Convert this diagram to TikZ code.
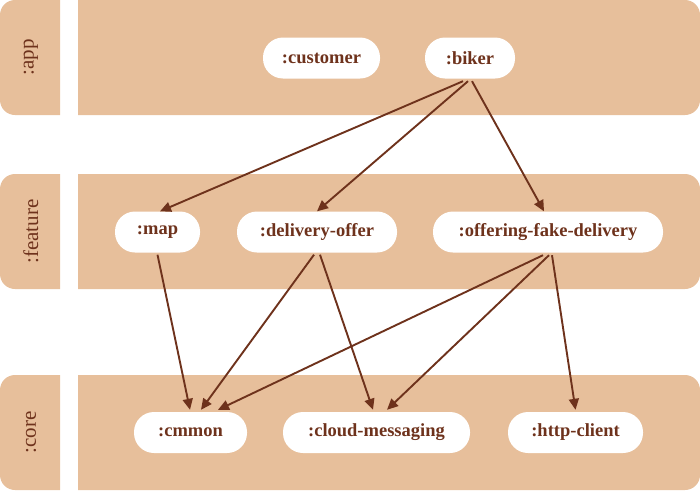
\documentclass[tikz,border=0pt]{standalone}
\usepackage{fontspec}
\setmainfont{Liberation Serif}
\usetikzlibrary{arrows.meta}
\definecolor{tan}{HTML}{E7BF9B}
\definecolor{brn}{HTML}{6E321C}
\tikzset{
  pill/.style={fill=white, rounded corners=20pt, minimum height=41pt, inner sep=0pt,
    text=brn, font=\fontsize{18.5pt}{22pt}\selectfont\bfseries},
  lane/.style={text=brn, rotate=90, font=\fontsize{21pt}{24pt}\selectfont},
  dep/.style={draw=brn, line width=1.9pt, -{Triangle[length=11pt,width=10pt]}}
}
\begin{document}
\begin{tikzpicture}[x=1pt,y=-1pt]
\useasboundingbox (0,0) rectangle (700,490);
% left label boxes
\begin{scope}
  \clip (0,0) rectangle (60,490);
  \fill[tan, rounded corners=15pt] (0,0) rectangle (100,115);
  \fill[tan, rounded corners=15pt] (0,174) rectangle (100,289);
  \fill[tan, rounded corners=15pt] (0,375) rectangle (100,490);
\end{scope}
% main lanes
\begin{scope}
  \clip (78,0) rectangle (700,490);
  \fill[tan, rounded corners=15pt] (40,0) rectangle (700,115);
  \fill[tan, rounded corners=15pt] (40,174) rectangle (700,289);
  \fill[tan, rounded corners=15pt] (40,375) rectangle (700,490);
\end{scope}
\node[lane] (lapp) at (31,57.5) {:app};
\node[lane] (lfeature) at (31,231.5) {:feature};
\node[lane] (lcore) at (31,432.5) {:core};
% nodes
\node[pill, minimum width=117pt] (customer) at (321.5,58) {:customer};
\node[pill, minimum width=90pt] (biker) at (470,58) {:biker};
\node[pill, minimum width=85pt] (map) at (157.5,232) {:map};
\node[pill, minimum width=160pt] (delivery) at (317,232) {:delivery-offer};
\node[pill, minimum width=230pt] (offering) at (548,232) {:offering-fake-delivery};
\node[pill, minimum width=113pt] (cmmon) at (190.5,432.5) {:cmmon};
\node[pill, minimum width=187pt] (cloud) at (376.5,432.5) {:cloud-messaging};
\node[pill, minimum width=135pt] (http) at (575.5,432.5) {:http-client};
% connectors
\draw[dep] ([xshift=-7pt,yshift=-2.5pt]biker.south) -- ([xshift=2.5pt]map.north);
\draw[dep] ([xshift=-2pt,yshift=-2.5pt]biker.south) -- (delivery.north);
\draw[dep] ([xshift=2pt,yshift=-2.5pt]biker.south) -- ([xshift=-4pt]offering.north);
\draw[dep] ([yshift=-2pt]map.south) -- ([xshift=-0.5pt,yshift=2pt]cmmon.north);
\draw[dep] ([xshift=-3pt,yshift=-2pt]delivery.south) -- ([xshift=10.5pt,yshift=2pt]cmmon.north);
\draw[dep] ([xshift=3pt,yshift=-2pt]delivery.south) -- ([xshift=-3.5pt,yshift=2pt]cloud.north);
\draw[dep] ([xshift=-5pt,yshift=-2.5pt]offering.south) -- ([xshift=27.5pt,yshift=2pt]cmmon.north);
\draw[dep] ([xshift=1pt,yshift=-2.5pt]offering.south) -- ([xshift=10.5pt,yshift=2pt]cloud.north);
\draw[dep] ([xshift=4pt,yshift=-2.5pt]offering.south) -- ([yshift=2pt]http.north);
\end{tikzpicture}
\end{document}
